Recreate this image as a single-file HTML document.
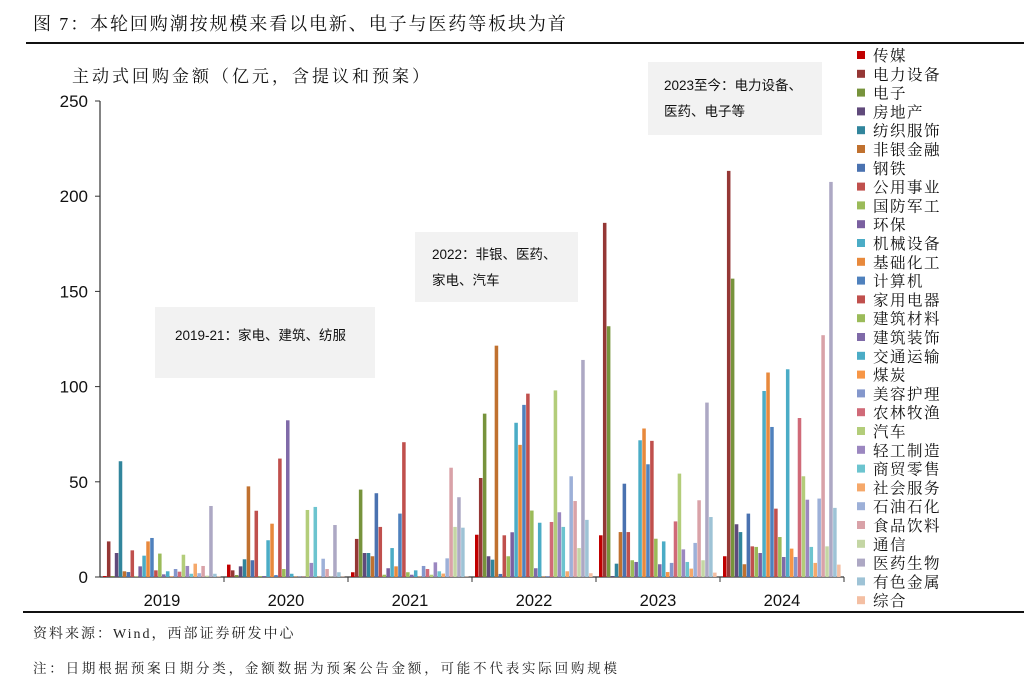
<!DOCTYPE html>
<html><head><meta charset="utf-8">
<style>
html,body{margin:0;padding:0;background:#fff;}
body{width:1024px;height:686px;overflow:hidden;position:relative;font-family:"Liberation Sans","Noto Sans CJK SC",sans-serif;}
svg{position:absolute;left:0;top:0;}
</style></head>
<body>
<svg id="chart" width="1024" height="686" viewBox="0 0 1024 686">
  <text x="33" y="30" font-size="18" letter-spacing="1.9" font-family="'Liberation Serif','Noto Serif CJK SC',serif" fill="#111">图 7：本轮回购潮按规模来看以电新、电子与医药等板块为首</text>
  <line x1="26" y1="43" x2="1024" y2="43" stroke="#111" stroke-width="2"/>
  <text x="72" y="82" font-size="17" letter-spacing="3" font-family="'Liberation Serif','Noto Serif CJK SC',serif" fill="#111">主动式回购金额（亿元，含提议和预案）</text>
  <g id="annotations">
    <rect x="155" y="307" width="220" height="71" fill="#F2F2F2"/>
    <text x="175" y="340" font-size="13.5" fill="#111">2019-21：家电、建筑、纺服</text>
    <rect x="415" y="232" width="163" height="70" fill="#F2F2F2"/>
    <text x="432" y="259" font-size="13.5" fill="#111">2022：非银、医药、</text>
    <text x="432" y="285" font-size="13.5" fill="#111">家电、汽车</text>
    <rect x="648" y="62" width="174" height="73" fill="#F2F2F2"/>
    <text x="664" y="90" font-size="13.5" fill="#111">2023至今：电力设备、</text>
    <text x="664" y="116" font-size="13.5" fill="#111">医药、电子等</text>
  </g>
  <g id="axes"></g>
  <g id="bars"></g>
  <g id="legend"></g>
  <line x1="23" y1="612" x2="1024" y2="612" stroke="#111" stroke-width="2"/>
  <text x="33" y="638" font-size="14" letter-spacing="2" font-family="'Liberation Serif','Noto Serif CJK SC',serif" fill="#222">资料来源：Wind，西部证券研发中心</text>
  <text x="33" y="673" font-size="13.5" letter-spacing="2.8" font-family="'Liberation Serif','Noto Serif CJK SC',serif" fill="#222">注：日期根据预案日期分类，金额数据为预案公告金额，可能不代表实际回购规模</text>
</svg>
<script>
const years = ["2019","2020","2021","2022","2023","2024"];
const sectors = ["传媒","电力设备","电子","房地产","纺织服饰","非银金融","钢铁","公用事业","国防军工","环保","机械设备","基础化工","计算机","家用电器","建筑材料","建筑装饰","交通运输","煤炭","美容护理","农林牧渔","汽车","轻工制造","商贸零售","社会服务","石油石化","食品饮料","通信","医药生物","有色金属","综合"];
const sectorColors = ["#C00000","#953735","#77933C","#604A7B","#31859C","#C0712F","#4A72B0","#C0504D","#9BBB59","#7A60A0","#4BACC6","#E8893C","#4F81BD","#C0504D","#9BBB59","#7F6AA8","#4BACC6","#F79646","#8497CC","#D06A78","#B3CD7A","#9B87C0","#6CC4CF","#F5A86A","#9DB0D8","#D9A2A8","#C4D6A4","#ADA8C4","#9EC3D6","#F4BFA3"];
const v2019 = [0.5,18.7,0.5,12.6,60.8,3,2.6,14,0.3,5.6,11.2,18.7,20.5,3.5,12.3,1.4,3,0.3,4.2,2.8,11.7,5.8,1.7,7,2,5.8,0.7,37.3,1.7,0.3];
const v2020 = [6.5,3.5,1,5.6,9.3,47.6,8.8,34.8,0.5,0.5,19.3,28,1,62.2,4.2,82.3,1.7,0.2,0.2,0.2,35.2,7.4,36.8,0.2,9.6,4.2,0.2,27.3,2.5,0.2];
const v2021 = [2.5,20,45.9,12.6,12.6,10.9,44,26.3,1.2,4.6,15.2,5.6,33.3,70.8,2.5,1.2,3.5,0.2,5.8,4.2,1.2,7.7,3,1.8,9.8,57.4,26.3,41.9,25.9,0.2];
const v2022 = [22.2,52,85.8,10.9,9.1,121.5,1.6,21.9,10.9,23.5,81,69.4,90.4,96.3,34.9,4.6,28.5,0.2,0.5,28.9,98,34,26.3,3,52.9,39.9,15.2,114,30,2];
const v2023 = [21.9,186,131.7,0.5,7,23.6,49,23.6,8.8,7.9,71.8,78,59.2,71.5,20.1,6.7,18.7,2.6,7.4,29.2,54.3,14.5,7.9,4.4,17.9,40.3,8.8,91.6,31.5,2.3];
const v2024 = [10.9,213.3,156.7,27.7,23.6,6.7,33.3,16.1,15.8,12.6,97.7,107.4,78.8,35.9,21,10.5,109.1,14.9,10.5,83.5,52.9,40.6,15.8,7.4,41.2,127,16.1,207.5,36.3,6.5];
const yTicks = [0,50,100,150,200,250];
const series = [v2019,v2020,v2021,v2022,v2023,v2024];

const NS="http://www.w3.org/2000/svg";
const X0=100, X1=844, Y0=577, Y1=101, YMAX=250;
const groupW=(X1-X0)/years.length;
const barStep=(groupW-6)/sectors.length;
function yScale(v){return Y0-(v/YMAX)*(Y0-Y1);}
function xGroup(i){return X0+i*groupW;}
function mk(tag,attrs,parent){const e=document.createElementNS(NS,tag);for(const k in attrs)e.setAttribute(k,attrs[k]);parent.appendChild(e);return e;}

const axes=document.getElementById('axes');
let yl=mk('line',{x1:X0,y1:Y1,x2:X0,y2:Y0,stroke:'#333','stroke-width':1.2},axes);


let xl=mk('line',{x1:X0,y1:Y0,x2:X1,y2:Y0,stroke:'#333','stroke-width':1.2},axes);


yTicks.forEach(t=>{
  const y=yScale(t);
  const tk=mk('line',{x1:X0-5,y1:y,x2:X0,y2:y,stroke:'#333','stroke-width':1},axes);
  
  
  const tx=mk('text',{x:X0-12,y:y+6,'font-size':17,'text-anchor':'end',fill:'#111'},axes);
  tx.textContent=t;
  
  
});
years.forEach((yr,i)=>{
  const tk=mk('line',{x1:xGroup(i+1),y1:Y0,x2:xGroup(i+1),y2:Y0+5,stroke:'#333','stroke-width':1},axes);
  
  
  const tx=mk('text',{x:xGroup(i)+groupW/2,y:Y0+29,'font-size':16.5,'text-anchor':'middle',fill:'#111'},axes);
  tx.textContent=yr;
  
  
});

const bars=document.getElementById('bars');
series.forEach((vals,gi)=>{
  vals.forEach((v,si)=>{
    const x=xGroup(gi)+3+si*barStep;
    const y=yScale(v);
    const r=mk('rect',{x:x.toFixed(2),y:y.toFixed(2),width:(barStep-0.4).toFixed(2),height:(Y0-y).toFixed(2),fill:sectorColors[si]},bars);
    
    
  });
});

const legend=document.getElementById('legend');
sectors.forEach((s,i)=>{
  const y=55+i*18.8;
  const g=mk('g',{},legend);
  
  
  mk('rect',{x:857,y:y-4,width:8,height:8,fill:sectorColors[i]},g);
  const t=mk('text',{x:873,y:y+6,'font-size':15.5,'letter-spacing':'1.5','font-family':"'Liberation Serif','Noto Serif CJK SC',serif",fill:'#111'},g);
  t.textContent=s;
});
</script>
</body></html>
